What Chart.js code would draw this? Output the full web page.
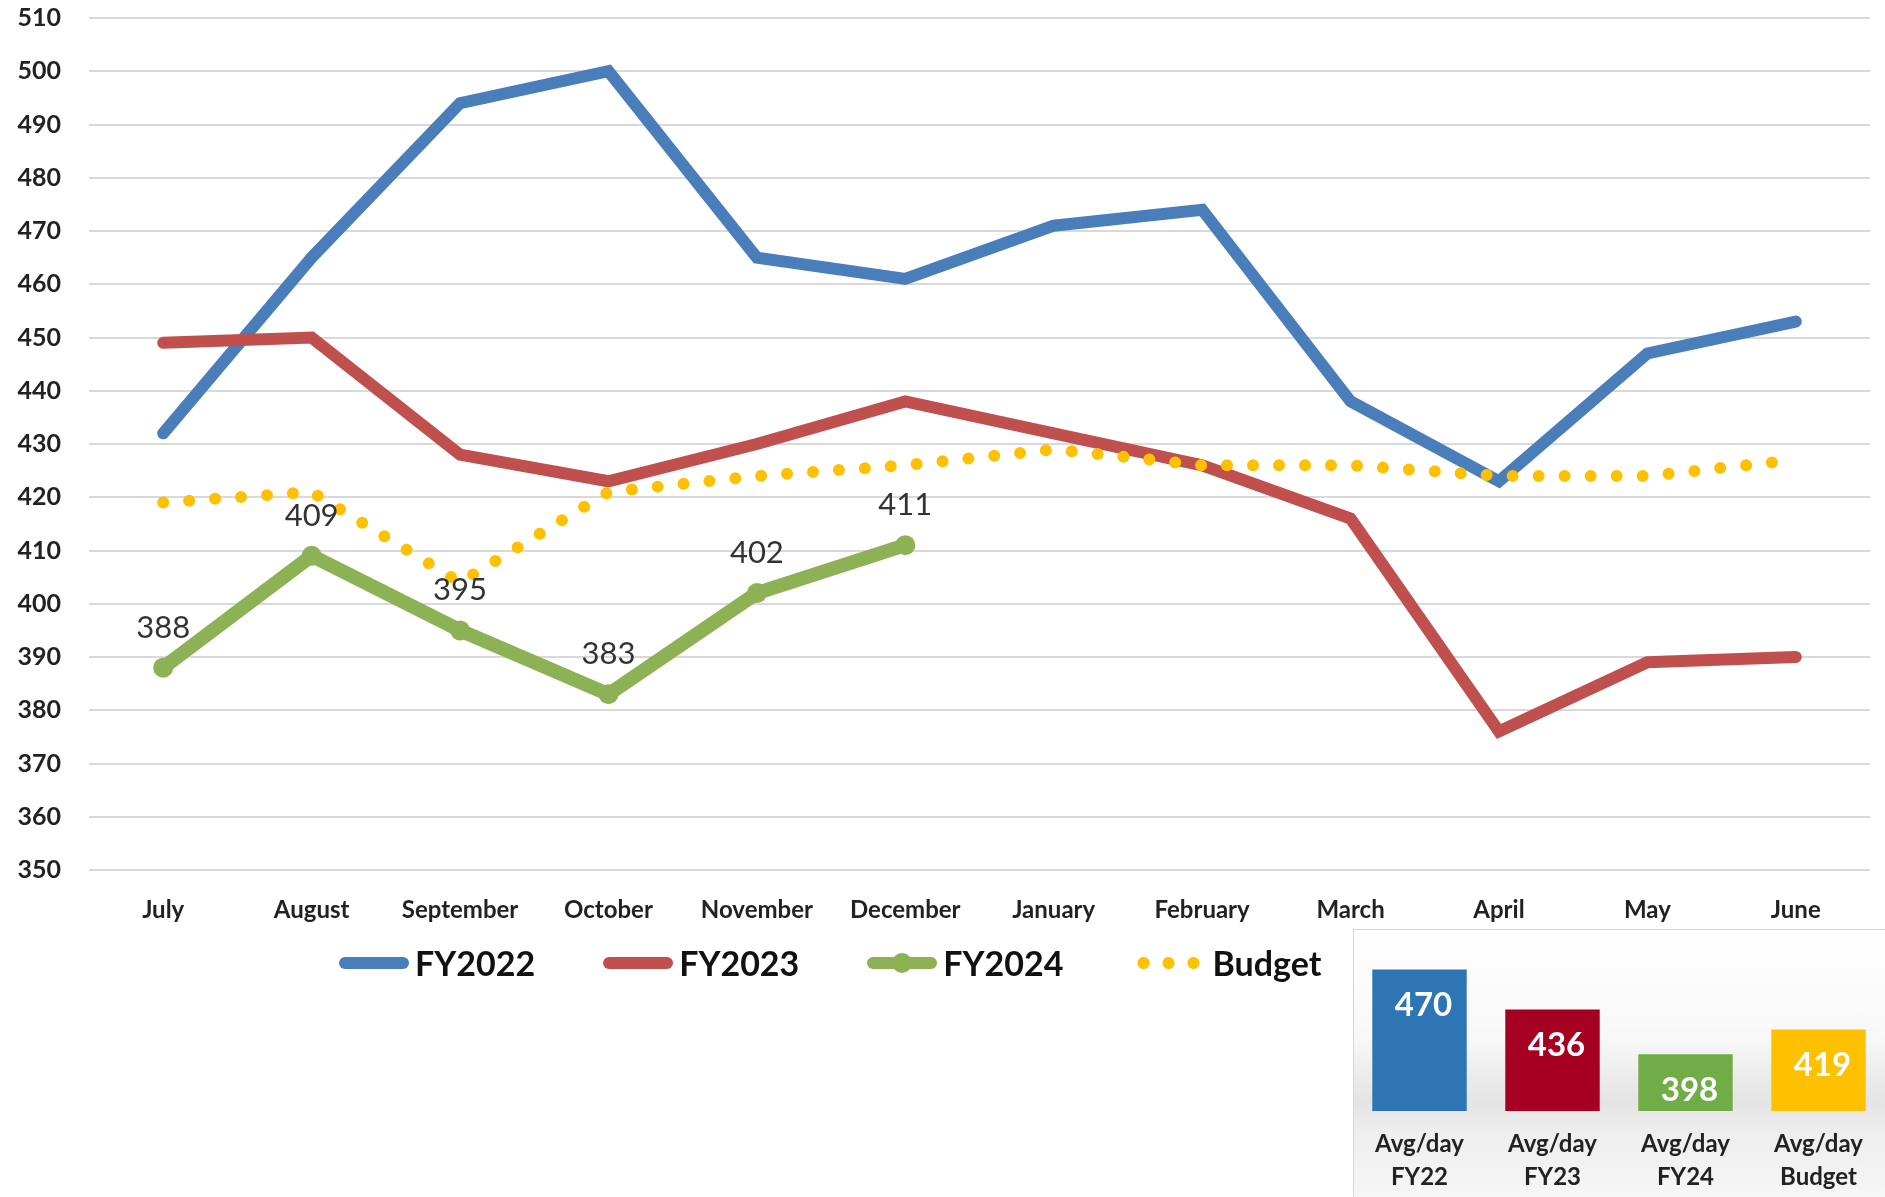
<!DOCTYPE html>
<html>
<head>
<meta charset="utf-8">
<title>Average per day</title>
<script src="https://cdn.jsdelivr.net/npm/chart.js@4.4.1/dist/chart.umd.min.js"></script>
<style>
  html, body { margin: 0; padding: 0; background: #fff; }
  body { width: 1885px; height: 1197px; position: relative; overflow: hidden; font-family: Lato, sans-serif; }
  #mainBox { position: absolute; left: 0; top: 0; width: 1885px; height: 1197px; }
  #panel {
    position: absolute; left: 1353px; top: 929px; width: 531px; height: 267px;
    border: 1px solid #d6d6d6;
    background: linear-gradient(to bottom, #ffffff 0%, #f8f8f8 40%, #e4e4e4 64%, #eeeeee 76%, #f6f6f6 100%);
  }
  #avgBox { position: absolute; left: 1353px; top: 929px; width: 532px; height: 268px; }
  #legend { position: absolute; left: 339px; top: 942px; display: flex; align-items: center; gap: 68px; }
  #legend .item { display: flex; align-items: center; font-weight: bold; font-size: 34px; color: #111; }
  #legend .swatch { width: 70px; height: 12px; border-radius: 6px; margin-right: 6px; position: relative; }
  #legend .swatch.marker::after {
    content: ""; position: absolute; left: 25px; top: -4px; width: 20px; height: 20px; border-radius: 50%; background: inherit;
  }
  #legend .swatch.dots { width: 75px; height: 12px; border-radius: 0; margin-right: 6px; }
</style>
</head>
<body>
<div id="mainBox"><canvas id="mainChart"></canvas></div>
<div id="legend"></div>
<div id="panel"></div>
<div id="avgBox"><canvas id="avgChart"></canvas></div>
<script>
const months = ['July', 'August', 'September', 'October', 'November', 'December',
                'January', 'February', 'March', 'April', 'May', 'June'];
const fy2022 = [432, 465, 494, 500, 465, 461, 471, 474, 438, 423, 447, 453];
const fy2023 = [449, 450, 428, 423, 430, 438, 432, 426, 416, 376, 389, 390];
const fy2024 = [388, 409, 395, 383, 402, 411];
const budget = [419, 421, 404, 421, 424, 426, 429, 426, 426, 424, 424, 427];
const yMin = 350, yMax = 510, yStep = 10;

const avgLabels = [['Avg/day', 'FY22'], ['Avg/day', 'FY23'], ['Avg/day', 'FY24'], ['Avg/day', 'Budget']];
const avgValues = [470, 436, 398, 419];
const avgColors = ['#2E75B6', '#A50021', '#70AD47', '#FFC000'];

const font = (size, weight) => ({ family: 'Lato', size: size, weight: weight });

// numbers above the FY2024 points
const pointLabels = {
  id: 'pointLabels',
  afterDatasetsDraw(chart) {
    const ctx = chart.ctx;
    const meta = chart.getDatasetMeta(2);
    ctx.save();
    ctx.font = '31px Lato';
    ctx.fillStyle = '#333333';
    ctx.textAlign = 'center';
    ctx.textBaseline = 'middle';
    meta.data.forEach((pt, i) => ctx.fillText(fy2024[i], pt.x, pt.y - 40));
    ctx.restore();
  }
};

// white numbers inside the average bars
const barLabels = {
  id: 'barLabels',
  afterDatasetsDraw(chart) {
    const ctx = chart.ctx;
    const meta = chart.getDatasetMeta(0);
    ctx.save();
    ctx.font = 'bold 33px Lato';
    ctx.fillStyle = '#ffffff';
    ctx.textAlign = 'center';
    ctx.textBaseline = 'middle';
    meta.data.forEach((bar, i) => ctx.fillText(avgValues[i], bar.x + 4, bar.y + 36));
    ctx.restore();
  }
};

const mainChart = new Chart(document.getElementById('mainChart'), {
  type: 'line',
  data: {
    labels: months,
    datasets: [
      { label: 'FY2022', data: fy2022, borderColor: '#4A7EBB', backgroundColor: '#4A7EBB',
        borderWidth: 12, pointRadius: 0, borderCapStyle: 'round', order: 3 },
      { label: 'FY2023', data: fy2023, borderColor: '#C0504D', backgroundColor: '#C0504D',
        borderWidth: 12, pointRadius: 0, borderCapStyle: 'round', order: 2 },
      { label: 'FY2024', data: fy2024, borderColor: '#8DB255', backgroundColor: '#8DB255',
        borderWidth: 14, pointRadius: 10, pointBorderWidth: 0, pointBackgroundColor: '#8DB255',
        borderCapStyle: 'round', order: 0 },
      { label: 'Budget', data: budget, borderColor: '#FFC000', backgroundColor: '#FFC000',
        borderWidth: 12, borderDash: [0, 26], borderCapStyle: 'round', pointRadius: 0, order: 1 }
    ]
  },
  options: {
    responsive: true,
    maintainAspectRatio: false,
    animation: false,
    layout: { padding: { top: 18, right: 15, left: 0, bottom: 0 } },
    plugins: { legend: { display: false }, tooltip: { enabled: false } },
    elements: { line: { tension: 0 } },
    scales: {
      x: {
        offset: true,
        grid: { display: false, drawTicks: false, offset: true },
        border: { display: false },
        ticks: { color: '#222', font: font(24, 'bold'), padding: 26, maxRotation: 0, autoSkip: false },
        afterFit: (s) => { s.height = 327; }
      },
      y: {
        min: yMin,
        max: yMax,
        grid: { color: '#d9d9d9', lineWidth: 2, drawTicks: false },
        border: { display: false },
        ticks: { stepSize: yStep, color: '#222', font: font(25, 'bold'), padding: 28 },
        afterFit: (s) => { s.width = 89; s.paddingTop = 12; s.paddingBottom = 12; }
      }
    }
  },
  plugins: [pointLabels]
});

// legend below the month labels
const legendEl = document.getElementById('legend');
mainChart.data.datasets.forEach((ds) => {
  const item = document.createElement('div');
  item.className = 'item';
  const sw = document.createElement('span');
  sw.className = 'swatch';
  if (ds.borderDash) {
    sw.classList.add('dots');
    sw.style.background = 'radial-gradient(circle, ' + ds.borderColor + ' 5.5px, transparent 6.5px) 0 0 / 25px 12px repeat-x';
  } else {
    sw.style.background = ds.borderColor;
    if (ds.pointRadius > 0) sw.classList.add('marker');
  }
  item.appendChild(sw);
  item.appendChild(document.createTextNode(ds.label));
  legendEl.appendChild(item);
});

new Chart(document.getElementById('avgChart'), {
  type: 'bar',
  data: {
    labels: avgLabels,
    datasets: [{ data: avgValues, backgroundColor: avgColors, barPercentage: 0.71, categoryPercentage: 1 }]
  },
  options: {
    responsive: true,
    maintainAspectRatio: false,
    animation: false,
    layout: { padding: { top: 5, left: 0, right: 0, bottom: 0 } },
    plugins: { legend: { display: false }, tooltip: { enabled: false } },
    scales: {
      x: {
        grid: { display: false, drawTicks: false },
        border: { display: false },
        ticks: { color: '#222', font: { family: 'Lato', size: 24, weight: 'bold', lineHeight: 1.4 }, padding: 16, maxRotation: 0 },
        afterFit: (s) => { s.height = 86; }
      },
      y: { display: false, min: 350, max: 500 }
    }
  },
  plugins: [barLabels]
});
</script>
</body>
</html>
